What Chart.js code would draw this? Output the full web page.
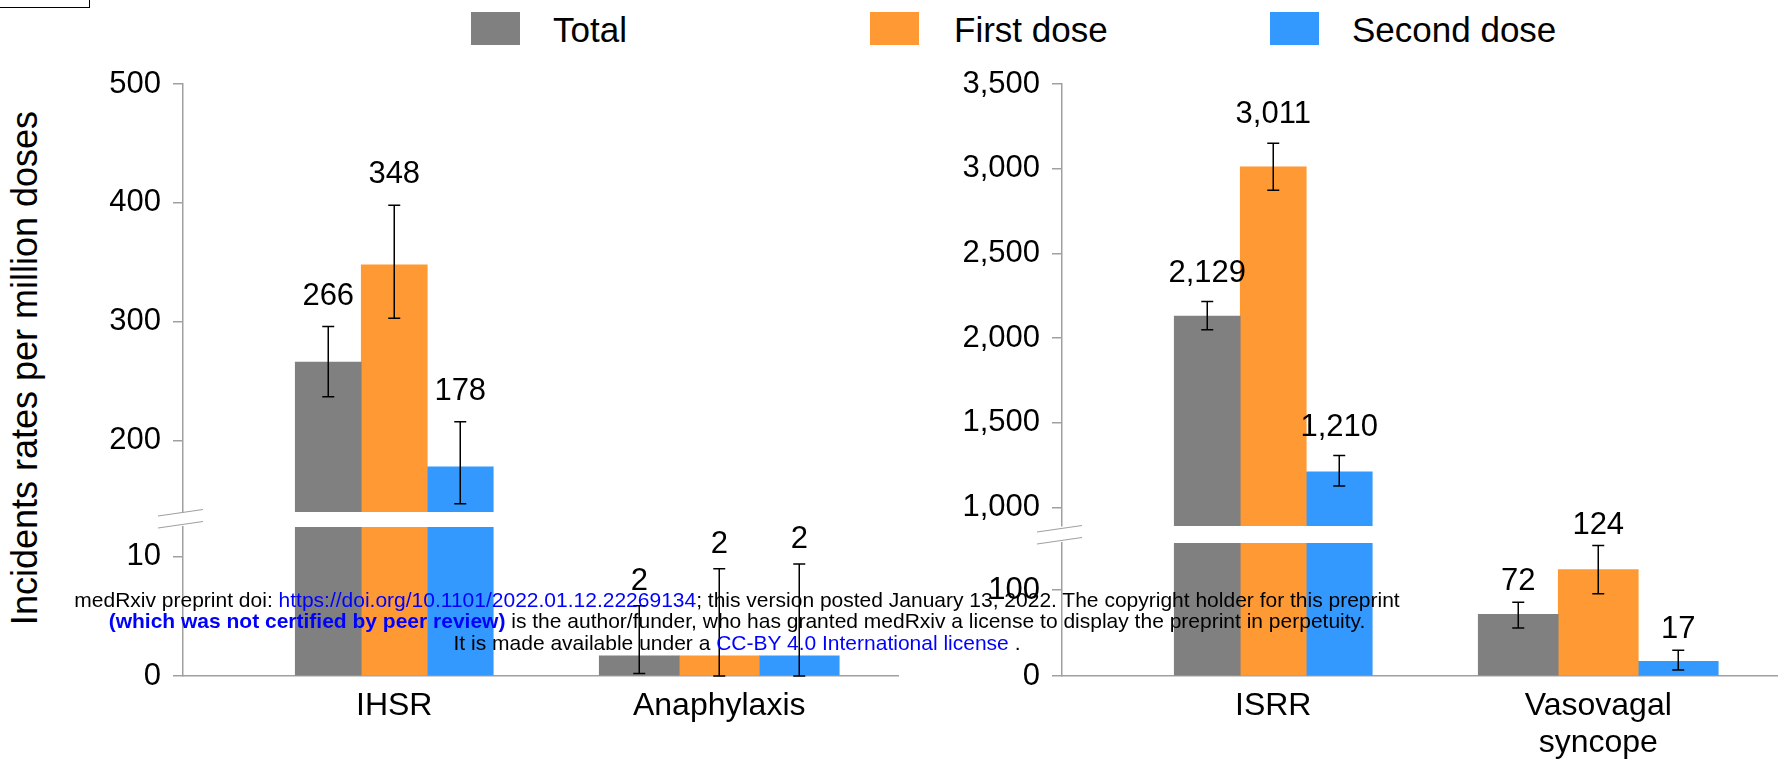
<!DOCTYPE html>
<html>
<head>
<meta charset="utf-8">
<title>Incident rates per million doses</title>
<script src="https://cdn.jsdelivr.net/npm/chart.js@4.4.1/dist/chart.umd.min.js"></script>
<style>
  html, body { margin: 0; padding: 0; background: #fff; }
  body {
    width: 1792px; height: 768px; position: relative; overflow: hidden;
    font-family: "Liberation Sans", Arial, sans-serif; color: #000;
  }
  canvas { position: absolute; }
  .corner-box { position: absolute; left: -2px; top: -2px; width: 90px; height: 8px; border: 1.5px solid #000; }
  .swatch { position: absolute; top: 12px; width: 49px; height: 33px; }
  .ltext { position: absolute; top: 12px; font-size: 35px; line-height: 35px; white-space: nowrap; }
  #ytitle {
    position: absolute; left: 25px; top: 368px; width: 620px; height: 36px;
    font-size: 36px; line-height: 36px; text-align: center; white-space: nowrap;
    transform: translate(-50%, -50%) rotate(-90deg);
  }
  #watermark {
    position: absolute; left: 0; top: 589px; width: 1474px; z-index: 5;
    text-align: center; font-size: 21px; line-height: 21.3px; white-space: nowrap;
    pointer-events: none;
  }
  #watermark .lnk { color: #0000ff; }
  #watermark b { color: #0000ff; }
</style>
</head>
<body>
<div class="corner-box"></div>
<div id="legend"></div>
<div id="ytitle">Incidents rates per million doses</div>
<div id="watermark">
  medRxiv preprint doi: <span class="lnk">https://doi.org/10.1101/2022.01.12.22269134</span>; this version posted January 13, 2022. The copyright holder for this preprint<br>
  <b>(which was not certified by peer review)</b> is the author/funder, who has granted medRxiv a license to display the preprint in perpetuity.<br>
  It is made available under a <span class="lnk">CC-BY 4.0 International license</span> .
</div>
<script>
// categories and series
const categories = ['IHSR', 'Anaphylaxis', 'ISRR', 'Vasovagal syncope'];
const seriesNames = ['Total', 'First dose', 'Second dose'];

// incidence per million doses, one entry per category
const totalRate  = [266, 1.7, 2129, 72];
const firstRate  = [348, 1.7, 3011, 124];
const secondRate = [178, 1.7, 1210, 17];

// 95% interval bounds
const totalLow   = [237, 0.2, 2049, 56];
const totalHigh  = [296, 5.9, 2215, 86];
const firstLow   = [303, 0, 2873, 96];
const firstHigh  = [398, 9.0, 3150, 152];
const secondLow  = [147, 0, 1126, 7];
const secondHigh = [216, 9.4, 1306, 30];

// tick labels of the four broken-axis panels
const leftTopTicks     = [200, 300, 400, 500];
const leftBottomTicks  = [0, 10];
const rightTopTicks    = [1000, 1500, 2000, 2500, 3000, 3500];
const rightBottomTicks = [0, 100];

(function () {
  'use strict';

  var FONT = '"Liberation Sans", Arial, sans-serif';
  var AXIS = '#a0a0a0';
  var colors = ['#808080', '#ff9933', '#3399ff'];
  var barWidths = [66, 80];   // first / second group of each panel
  var rates = [totalRate, firstRate, secondRate];
  var lows = [totalLow, firstLow, secondLow];
  var highs = [totalHigh, firstHigh, secondHigh];

  Chart.defaults.font.family = FONT;
  Chart.defaults.color = '#000';

  // legend (html, spans both charts)
  var legend = document.getElementById('legend');
  var legendPos = [[471, 553], [870, 954], [1270, 1352]];
  seriesNames.forEach(function (name, i) {
    var sw = document.createElement('div');
    sw.className = 'swatch';
    sw.style.left = legendPos[i][0] + 'px';
    sw.style.background = colors[i];
    legend.appendChild(sw);
    var tx = document.createElement('div');
    tx.className = 'ltext';
    tx.style.left = legendPos[i][1] + 'px';
    tx.textContent = name;
    legend.appendChild(tx);
  });

  var panels = [
    { left: 83,  top: 44,  width: 827, height: 508, cats: [0, 1], min: 140, max: 500,  ticks: leftTopTicks,     xAxis: false, labelGap: 22 },
    { left: 83,  top: 487, width: 827, height: 279, cats: [0, 1], min: 0,   max: 12.5, ticks: leftBottomTicks,  xAxis: true,  labelGap: 16 },
    { left: 962, top: 44,  width: 827, height: 522, cats: [2, 3], min: 890, max: 3500, ticks: rightTopTicks,    xAxis: false, labelGap: 20 },
    { left: 962, top: 503, width: 827, height: 263, cats: [2, 3], min: 0,   max: 155,  ticks: rightBottomTicks, xAxis: true,  labelGap: 12 }
  ];

  function buildDatasets(p) {
    var sets = [];
    p.cats.forEach(function (c, slot) {
      rates.forEach(function (r, s) {
        var show = r[c] >= p.min;
        sets.push({
          label: seriesNames[s],
          seriesIdx: s,
          catIdx: c,
          data: p.cats.map(function (cc, k) {
            return { x: k + 1, y: (k === slot && show) ? r[c] : null };
          }),
          backgroundColor: colors[s],
          borderWidth: 0,
          barThickness: barWidths[slot],
          skipNull: true,
          clip: 0
        });
      });
    });
    return sets;
  }

  function overlay(p) {
    return {
      id: 'errorsAndLabels',
      afterDatasetsDraw: function (chart) {
        var ctx = chart.ctx;
        var y = chart.scales.y;
        chart.data.datasets.forEach(function (ds, i) {
          var s = ds.seriesIdx, c = ds.catIdx;
          var v = rates[s][c];
          if (v < p.min || v > p.max) return;
          var bar = chart.getDatasetMeta(i).data[p.cats.indexOf(c)];
          if (!bar) return;
          var x = bar.x;
          var yHi = y.getPixelForValue(highs[s][c]);
          var yLo = y.getPixelForValue(lows[s][c]);
          ctx.save();
          ctx.strokeStyle = '#000';
          ctx.lineWidth = 1.5;
          ctx.beginPath();
          ctx.moveTo(x, yHi); ctx.lineTo(x, yLo);
          ctx.moveTo(x - 6, yHi); ctx.lineTo(x + 6, yHi);
          ctx.moveTo(x - 6, yLo); ctx.lineTo(x + 6, yLo);
          ctx.stroke();
          ctx.font = '31px ' + FONT;
          ctx.fillStyle = '#000';
          ctx.textAlign = 'center';
          ctx.textBaseline = 'alphabetic';
          ctx.fillText(Math.round(v).toLocaleString('en-US'), x, yHi - p.labelGap);
          ctx.restore();
        });
      },
      afterDraw: function (chart) {
        if (!p.xAxis) return;
        // axis break marks
        var a = chart.chartArea, ctx = chart.ctx;
        ctx.save();
        ctx.strokeStyle = AXIS;
        ctx.lineWidth = 1.2;
        ctx.beginPath();
        ctx.moveTo(a.left - 25, a.top - 11); ctx.lineTo(a.left + 20, a.top - 17.5);
        ctx.moveTo(a.left - 25, a.top + 1);  ctx.lineTo(a.left + 20, a.top - 5.5);
        ctx.stroke();
        ctx.restore();
      }
    };
  }

  panels.forEach(function (p) {
    var cv = document.createElement('canvas');
    cv.width = p.width;
    cv.height = p.height;
    cv.style.left = p.left + 'px';
    cv.style.top = p.top + 'px';
    document.body.appendChild(cv);

    new Chart(cv, {
      type: 'bar',
      data: { datasets: buildDatasets(p) },
      options: {
        responsive: false,
        animation: false,
        events: [],
        layout: { padding: { top: 40, right: 12, bottom: p.xAxis ? 0 : 40, left: 0 } },
        plugins: { legend: { display: false }, tooltip: { enabled: false } },
        scales: {
          x: {
            type: 'linear',
            display: p.xAxis,
            min: 0.35,
            max: 2.55,
            offset: false,
            afterBuildTicks: function (s) {
              s.ticks = p.cats.map(function (c, k) { return { value: k + 1 }; });
            },
            afterFit: function (s) { s.height = p.xAxis ? 90 : 0; },
            ticks: {
              autoSkip: false,
              maxRotation: 0,
              padding: 12,
              font: { size: 32, lineHeight: 1.15 },
              color: '#000',
              callback: function (v, idx) {
                var lbl = categories[p.cats[idx]];
                return lbl.indexOf(' ') > 0 ? lbl.split(' ') : lbl;
              }
            },
            grid: { display: false, drawTicks: false },
            border: { display: true, color: AXIS, width: 1.5 }
          },
          y: {
            type: 'linear',
            min: p.min,
            max: p.max,
            afterBuildTicks: function (s) {
              s.ticks = p.ticks.map(function (v) { return { value: v }; });
            },
            afterFit: function (s) { s.width = 100; },
            ticks: {
              padding: 12,
              font: { size: 31 },
              color: '#000',
              callback: function (v) { return Number(v).toLocaleString('en-US'); }
            },
            grid: { drawOnChartArea: false, drawTicks: true, tickLength: 10, color: AXIS, lineWidth: 1.5 },
            border: { display: true, color: AXIS, width: 1.5 }
          }
        }
      },
      plugins: [overlay(p)]
    });
  });
})();
</script>
</body>
</html>
